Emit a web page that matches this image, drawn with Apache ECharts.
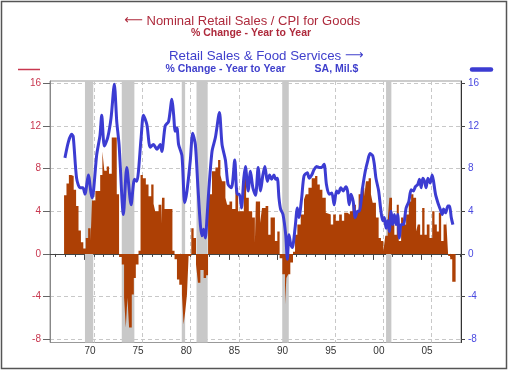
<!DOCTYPE html>
<html><head><meta charset="utf-8">
<script src="https://cdn.jsdelivr.net/npm/echarts@6/dist/echarts.min.js"></script>
<style>html,body{margin:0;padding:0;background:#fff}#c{width:510px;height:372px}</style>
</head><body><div id="c"></div>
<script>
// Nominal Retail Sales / CPI for Goods, % change y/y (step starts in decimal years)
const redYears = [1967.75,1968.0,1968.25,1968.5,1968.75,1969.0,1969.25,1969.5,1969.75,1970.0,1970.25,1970.5,1970.65,1971.0,1971.5,1971.73,1971.93,1972.18,1972.42,1972.7,1973.22,1973.46,1973.74,1973.98,1974.16,1974.33,1974.5,1974.78,1974.99,1975.2,1975.48,1975.69,1975.93,1976.24,1976.52,1976.8,1977.04,1977.21,1977.56,1977.84,1977.92,1978.18,1979.0,1979.22,1979.47,1979.71,1979.99,1980.16,1980.33,1980.51,1980.68,1980.96,1981.2,1981.45,1981.65,1981.9,1982.24,1982.49,1982.7,1983.11,1983.46,1983.74,1983.98,1984.15,1984.5,1984.68,1984.92,1985.2,1985.54,1985.82,1986.41,1986.65,1986.93,1987.28,1987.56,1987.66,1988.1,1988.3,1988.67,1988.95,1989.19,1989.64,1989.89,1990.13,1990.41,1990.69,1990.83,1991.03,1991.24,1991.52,1991.73,1991.97,1992.32,1992.66,1992.84,1993.12,1993.46,1993.81,1994.05,1994.3,1994.57,1994.92,1995.1,1995.44,1995.69,1995.96,1996.31,1996.59,1996.83,1997.18,1997.42,1997.7,1998.05,1998.33,1998.57,1998.92,1999.09,1999.37,1999.61,1999.79,2000.13,2000.41,2000.65,2000.9,2001.1,2001.35,2001.52,2001.8,2002.04,2002.29,2002.5,2002.74,2002.98,2003.26,2003.54,2003.78,2004.02,2004.3,2004.47,2004.72,2004.93,2005.17,2005.41,2005.69,2005.97,2006.21,2006.45,2006.66,2006.9,2007.15,2007.43,2007.63,2007.84,2008.05];
const redValues = [5.5,6.6,7.4,7.3,6.0,4.5,2.2,1.1,0.5,1.5,2.4,1.2,5.0,5.9,7.4,9.6,7.8,8.2,7.5,10.9,5.6,-0.3,-1.0,-4.1,-6.9,-4.1,-6.9,-3.8,-2.25,-1.0,0.3,7.4,7.1,6.5,5.4,6.5,4.7,4.0,4.6,2.8,5.25,4.2,0.3,-0.5,-2.4,-2.9,-3.8,-6.6,-5.4,-3.8,-0.2,2.4,1.5,-1.0,-2.7,-1.5,-2.25,-2.0,5.6,7.75,8.1,8.8,7.4,6.8,5.25,4.6,4.9,4.2,6.2,4.0,7.1,5.25,4.0,3.4,1.0,4.9,2.9,4.3,4.5,1.8,3.4,1.2,2.1,-0.4,-1.9,-4.75,-2.25,-1.9,-0.8,0.2,1.8,2.75,3.7,5.1,5.6,6.2,7.1,7.3,6.5,6.0,5.25,3.85,3.7,2.75,3.7,3.1,3.7,3.1,3.85,3.7,4.0,4.6,4.0,5.6,6.2,5.4,6.8,7.1,5.6,4.8,3.4,1.5,1.2,0.25,1.7,3.1,5.25,2.75,1.8,4.6,1.2,3.4,2.75,3.7,4.9,5.6,5.25,2.1,2.75,1.8,4.3,1.8,2.75,1.5,4.0,2.75,2.1,3.85,1.2,2.75,3.1,-0.2,-0.5,-2.6];
const redEndYear = 2008.4;

// Retail Sales & Food Services, % change y/y
const blueYears = [1967.84,1968.2,1968.53,1968.7,1969.05,1969.4,1969.7,1969.92,1970.27,1970.55,1970.68,1971.14,1971.48,1971.66,1971.93,1972.28,1972.63,1972.97,1973.22,1973.46,1973.91,1974.26,1974.71,1975.06,1975.3,1975.75,1975.99,1976.35,1976.69,1977.03,1977.39,1977.73,1977.9,1978.25,1978.6,1978.95,1979.12,1979.29,1979.47,1979.64,1979.99,1980.27,1980.51,1980.86,1981.1,1981.38,1981.65,1981.9,1982.07,1982.24,1982.42,1982.59,1982.77,1983.11,1983.46,1983.88,1984.15,1984.5,1984.78,1985.13,1985.47,1985.72,1985.96,1986.17,1986.41,1986.58,1986.86,1987.1,1987.35,1987.63,1987.9,1988.15,1988.39,1988.6,1988.85,1989.09,1989.3,1989.54,1989.71,1989.89,1990.06,1990.23,1990.48,1990.76,1990.93,1991.1,1991.28,1991.45,1991.73,1991.97,1992.14,1992.42,1992.66,1993.01,1993.19,1993.46,1993.71,1993.95,1994.23,1994.5,1994.75,1994.99,1995.27,1995.55,1995.79,1996.03,1996.24,1996.48,1996.73,1997.0,1997.18,1997.35,1997.53,1997.77,1997.98,1998.22,1998.4,1998.74,1999.02,1999.27,1999.51,1999.79,1999.96,2000.13,2000.41,2000.65,2000.83,2001.0,2001.18,2001.35,2001.52,2001.7,2001.87,2002.04,2002.22,2002.39,2002.56,2002.74,2002.98,2003.26,2003.54,2003.78,2004.02,2004.23,2004.47,2004.65,2004.82,2004.99,2005.17,2005.34,2005.52,2005.76,2005.97,2006.11,2006.31,2006.56,2006.8,2007.01,2007.15,2007.36,2007.6,2007.77,2007.95,2008.12];
const blueValues = [9.0,10.5,11.2,11.0,7.1,6.2,6.2,5.6,7.4,5.7,5.25,9.3,11.1,13.0,10.1,10.9,12.75,15.9,12.4,10.25,3.7,8.1,4.6,7.0,6.8,10.9,13.0,12.1,10.0,10.25,9.8,10.25,9.6,12.0,12.4,14.5,13.1,11.5,11.8,10.25,9.2,4.8,5.9,8.8,11.3,10.25,6.2,2.75,1.7,2.3,1.5,3.4,5.9,9.6,10.9,13.25,10.25,8.8,6.5,6.2,8.8,5.6,5.6,4.3,7.1,8.2,5.9,7.75,6.2,5.5,8.1,5.9,7.4,8.2,6.8,7.4,7.0,7.4,7.0,7.1,5.25,4.2,3.7,1.8,-0.5,1.8,0.9,0.6,2.4,4.3,3.4,5.25,7.3,7.6,7.1,7.4,7.9,8.2,8.1,8.1,8.4,6.5,5.6,5.7,4.6,5.9,5.7,6.2,5.9,6.3,5.9,4.6,5.6,4.9,3.4,4.0,4.0,6.2,7.75,8.7,9.4,9.2,8.4,7.1,5.9,4.0,3.1,3.4,2.4,3.1,2.1,4.0,2.75,3.7,2.75,3.7,1.5,2.75,2.75,4.3,4.9,6.0,5.9,6.3,6.5,7.0,6.2,7.1,6.8,6.2,7.1,6.65,7.4,6.8,5.6,4.8,4.2,3.7,4.2,3.85,4.5,4.5,3.4,2.75];

// Recession shading (start, end)
const recessions = [[1969.92,1970.78],[1973.74,1975.05],[1979.97,1980.32],[1981.5,1982.66],[1990.4,1991.08],[2001.18,2001.73]];

// Axis ticks / labels
const yTicks = [-8,-4,0,4,8,12,16];
const xLabelYears = [1969.86,1974.86,1979.86,1984.86,1989.86,1994.86,1999.86,2004.86];
const xLabels = ['70','75','80','85','90','95','00','05'];
const xGridYears = [1970.89,1975.89,1980.89,1985.89,1990.89,1995.89,2000.89,2005.89];
const xMinorYears = [];
for (let y = 1966.86; y < 2009; y += 1) xMinorYears.push(+y.toFixed(2));

const X_MIN = 1966.29, X_MAX = 2008.96;
const FONT = '"Liberation Sans", Arial, sans-serif';
const ARROW_FONT = '"DejaVu Sans", sans-serif';
const RED = '#ad4005', BLUE = '#3c3cd2';
const TITLE_RED = '#ae2a3c', TITLE_BLUE = '#3f3fcc';

const redData = redYears.map((t, i) => [t, redValues[i]]);
redData.push([redEndYear, redValues[redValues.length - 1]]);
const blueData = blueYears.map((t, i) => [t, blueValues[i]]);

const chart = echarts.init(document.getElementById('c'), null, {renderer: 'canvas'});
const baseX = {type: 'value', min: X_MIN, max: X_MAX, position: 'bottom', gridIndex: 0};
chart.setOption({
  animation: false,
  backgroundColor: '#fff',
  grid: {left: 50, right: 49, top: 81, bottom: 29.5, show: true, borderColor: '#999', borderWidth: 1, containLabel: false},
  xAxis: [
    Object.assign({}, baseX, {
      axisLine: {show: true, lineStyle: {color: '#444', width: 1}},
      axisTick: {show: true, customValues: xMinorYears, length: 3, lineStyle: {color: '#444'}},
      axisLabel: {show: false}, splitLine: {show: false}
    }),
    Object.assign({}, baseX, {
      axisLine: {show: false},
      axisTick: {show: true, customValues: xLabelYears, length: 6, lineStyle: {color: '#444'}},
      axisLabel: {show: true, customValues: xLabelYears, align: 'left', margin: 4, color: '#333', fontSize: 10, fontFamily: FONT,
        formatter: v => { const i = xLabelYears.findIndex(y => Math.abs(y - v) < 0.01); return i >= 0 ? xLabels[i] : ''; }},
      splitLine: {show: false}
    }),
    Object.assign({}, baseX, {
      axisLine: {show: false},
      axisTick: {show: false, customValues: xGridYears},
      axisLabel: {show: false},
      splitLine: {show: true, lineStyle: {type: [4, 3], color: '#c8c8c8', width: 1}}
    })
  ],
  yAxis: [
    {type: 'value', min: -8.3, max: 16.2, position: 'left',
      axisLine: {show: true, lineStyle: {color: '#888'}},
      axisTick: {show: true, customValues: yTicks, length: 7, lineStyle: {color: '#666'}},
      axisLabel: {customValues: yTicks, color: '#c8374f', fontSize: 10, fontFamily: FONT, margin: 9},
      splitLine: {show: true, lineStyle: {type: [4, 3], color: '#c8c8c8', width: 1}}},
    {type: 'value', min: -8.3, max: 16.2, position: 'right',
      axisLine: {show: true, lineStyle: {color: '#333'}},
      axisTick: {show: true, customValues: yTicks, length: 4, lineStyle: {color: '#444'}},
      axisLabel: {customValues: yTicks, color: '#4a4ae0', fontSize: 10, fontFamily: FONT, margin: 7},
      splitLine: {show: false}}
  ],
  series: [
    {type: 'line', name: 'real', xAxisIndex: 0, yAxisIndex: 0, data: redData, step: 'end', symbol: 'none',
      lineStyle: {width: 0}, areaStyle: {color: RED, opacity: 1}, silent: true, z: 2,
      markArea: {silent: true, itemStyle: {color: '#c8c8c8'},
        data: recessions.map(r => [{xAxis: r[0]}, {xAxis: r[1]}])}},
    {type: 'line', name: 'nominal', xAxisIndex: 0, yAxisIndex: 1, data: blueData, symbol: 'none', smooth: 0.25,
      lineStyle: {width: 3, color: BLUE}, silent: true, z: 4}
  ],
  graphic: [
    {type: 'rect', shape: {x: 1.5, y: 1.5, width: 505, height: 367}, style: {fill: 'none', stroke: '#555', lineWidth: 1.5}, silent: true},
    {type: 'text', x: 143, y: 21, style: {text: '\u27F5', fill: TITLE_RED, font: '13px ' + ARROW_FONT, align: 'right', verticalAlign: 'middle'}},
    {type: 'text', x: 146.5, y: 21, style: {text: 'Nominal Retail Sales / CPI for Goods', fill: TITLE_RED, font: '13px ' + FONT, align: 'left', verticalAlign: 'middle'}},
    {type: 'text', x: 251, y: 33.5, style: {text: '% Change - Year to Year', fill: TITLE_RED, font: 'bold 10.5px ' + FONT, align: 'center', verticalAlign: 'middle'}},
    {type: 'text', x: 169, y: 56, style: {text: 'Retail Sales & Food Services', fill: TITLE_BLUE, font: '13.3px ' + FONT, align: 'left', verticalAlign: 'middle'}},
    {type: 'text', x: 345, y: 56, style: {text: '\u27F6', fill: TITLE_BLUE, font: '13px ' + ARROW_FONT, align: 'left', verticalAlign: 'middle'}},
    {type: 'text', x: 225.5, y: 69.5, style: {text: '% Change - Year to Year', fill: TITLE_BLUE, font: 'bold 10.5px ' + FONT, align: 'center', verticalAlign: 'middle'}},
    {type: 'text', x: 336.5, y: 69.5, style: {text: 'SA, Mil.$', fill: TITLE_BLUE, font: 'bold 10.5px ' + FONT, align: 'center', verticalAlign: 'middle'}},
    {type: 'line', shape: {x1: 18, y1: 69.5, x2: 40, y2: 69.5}, style: {stroke: '#c8374f', lineWidth: 1.5}},
    {type: 'line', shape: {x1: 472, y1: 69.5, x2: 491, y2: 69.5}, style: {stroke: BLUE, lineWidth: 4.5, lineCap: 'round'}}
  ]
});
</script></body></html>
